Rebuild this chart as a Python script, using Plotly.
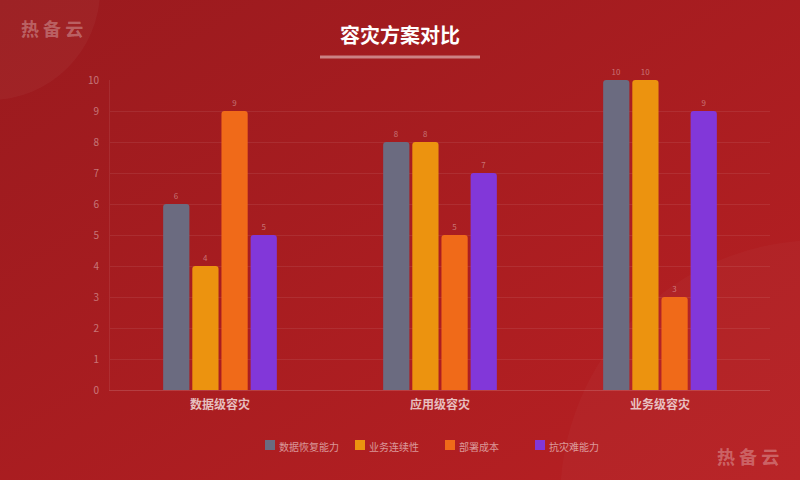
import plotly.graph_objects as go
import base64

categories = ["数据级容灾", "应用级容灾", "业务级容灾"]
series_names = ["数据恢复能力", "业务连续性", "部署成本", "抗灾难能力"]
recovery = [6, 8, 10]
continuity = [4, 8, 10]
cost = [9, 5, 3]
resilience = [5, 7, 9]
series_values = [recovery, continuity, cost, resilience]
colors = ["#6b6b80", "#ec930f", "#f06a19", "#8237d9"]
y_ticks = list(range(0, 11))

W, H = 800, 480
ML, MR, MT, MB = 110, 30, 80, 90
PW, PH = W - ML - MR, H - MT - MB

def px_x(x):
    return (x - ML) / PW

def px_y(y):
    return 1 - (y - MT) / PH

svg = f'''<svg xmlns="http://www.w3.org/2000/svg" width="{W}" height="{H}" viewBox="0 0 {W} {H}">
<defs><linearGradient id="g" x1="0" y1="0" x2="1" y2="1">
<stop offset="0" stop-color="#9a1a1e"/><stop offset="1" stop-color="#b82023"/></linearGradient></defs>
<rect width="{W}" height="{H}" fill="url(#g)"/>
<circle cx="-10" cy="-10" r="110" fill="#ffffff" fill-opacity="0.035"/>
<circle cx="820" cy="500" r="260" fill="#ffffff" fill-opacity="0.025"/>
</svg>'''
bg_uri = "data:image/svg+xml;base64," + base64.b64encode(svg.encode()).decode()

fig = go.Figure()
for name, vals, col in zip(series_names, series_values, colors):
    fig.add_trace(go.Bar(
        x=categories, y=vals, name=name,
        marker=dict(color=col, line=dict(width=0)),
        text=[str(v) for v in vals], textposition="outside",
        textfont=dict(size=8, color="rgba(255,255,255,0.38)"),
        cliponaxis=False, showlegend=False, hoverinfo="skip",
    ))

font_family = "Noto Sans CJK SC, Noto Sans, sans-serif"

shapes = [dict(
    type="line", xref="paper", yref="paper",
    x0=px_x(320), x1=px_x(480), y0=px_y(57), y1=px_y(57),
    line=dict(color="rgba(255,255,255,0.45)", width=3),
)]
annotations = [
    dict(text="<b>容灾方案对比</b>", xref="paper", yref="paper",
         x=px_x(400), y=px_y(35), xanchor="center", yanchor="middle",
         showarrow=False, font=dict(size=20, color="#ffffff")),
    dict(text="<b>热 备 云</b>", xref="paper", yref="paper",
         x=px_x(52), y=px_y(28), xanchor="center", yanchor="middle",
         showarrow=False, font=dict(size=18, color="rgba(255,255,255,0.3)")),
    dict(text="<b>热 备 云</b>", xref="paper", yref="paper",
         x=px_x(748), y=px_y(456), xanchor="center", yanchor="middle",
         showarrow=False, font=dict(size=18, color="rgba(255,255,255,0.3)")),
]

# custom legend
leg_x0, leg_step, leg_y = 265, 90, 445
for i, (name, col) in enumerate(zip(series_names, colors)):
    lx = leg_x0 + i * leg_step
    shapes.append(dict(
        type="rect", xref="paper", yref="paper",
        x0=px_x(lx), x1=px_x(lx + 10), y0=px_y(leg_y - 5), y1=px_y(leg_y + 5),
        fillcolor=col, line=dict(width=0),
    ))
    annotations.append(dict(
        text=name, xref="paper", yref="paper",
        x=px_x(lx + 12), y=px_y(leg_y + 1), xanchor="left", yanchor="middle",
        showarrow=False, font=dict(size=10, color="rgba(255,255,255,0.55)"),
    ))

fig.update_layout(
    width=W, height=H,
    margin=dict(l=ML, r=MR, t=MT, b=MB),
    paper_bgcolor="#a91d20",
    plot_bgcolor="rgba(0,0,0,0)",
    font=dict(family=font_family),
    barmode="group",
    bargap=0.47,
    bargroupgap=0.1,
    barcornerradius=3,
    showlegend=False,
    hovermode=False,
    xaxis=dict(
        showgrid=False, showline=True, linecolor="rgba(255,255,255,0.15)", linewidth=1,
        tickfont=dict(size=12, color="rgba(255,255,255,0.72)", family=font_family, weight="bold"),
        ticks="", ticklabelstandoff=4, fixedrange=True,
    ),
    yaxis=dict(
        range=[0, 10], tickvals=y_ticks, showgrid=True,
        gridcolor="rgba(255,255,255,0.08)", gridwidth=1,
        zeroline=False, showline=True, linecolor="rgba(255,255,255,0.08)",
        tickfont=dict(size=10, color="rgba(255,255,255,0.4)"),
        ticks="", ticklabelstandoff=8, fixedrange=True,
    ),
    images=[dict(
        source=bg_uri, xref="paper", yref="paper",
        x=px_x(0), y=px_y(0), sizex=W / PW, sizey=H / PH,
        xanchor="left", yanchor="top", sizing="stretch", layer="below",
    )],
    shapes=shapes,
    annotations=annotations,
)

fig.write_html(
    "out.html",
    config={"displayModeBar": False},
    post_script="document.body.style.margin='0';document.body.style.overflow='hidden';",
)
